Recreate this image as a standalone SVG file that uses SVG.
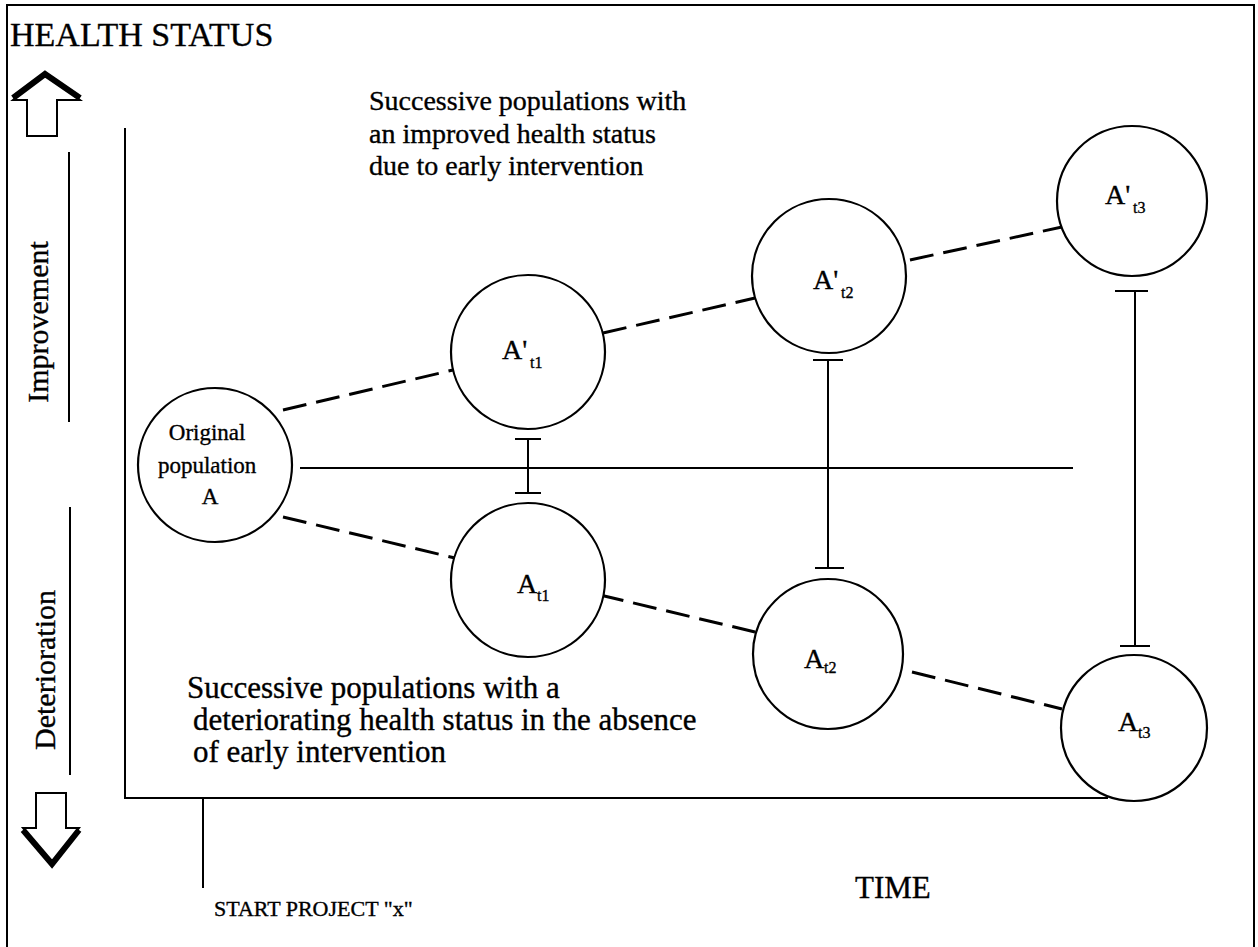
<svg xmlns="http://www.w3.org/2000/svg" width="1258" height="947" viewBox="0 0 1258 947">
  <style>
    .t { font-family: "Liberation Serif", "Times New Roman", serif; fill: #000; stroke: #000; stroke-width: 0.35; }
    .line { stroke: #000; stroke-width: 2; fill: none; }
    .node { stroke: #000; stroke-width: 2.2; fill: #fff; }
    .dash { stroke: #000; stroke-width: 3; fill: none; stroke-dasharray: 24 10; }
    .lbl { font-size: 28px; }
    .sub { font-size: 16px; }
  </style>
  <rect width="1258" height="947" fill="#fff"/>

  <!-- outer frame (open at the bottom) -->
  <path class="line" d="M7 947 V5 H1254 V947"/>

  <!-- axis title -->
  <text class="t" x="10" y="46" font-size="34">HEALTH STATUS</text>

  <!-- up / down block arrows -->
  <g id="arrow-up">
    <polygon class="line" points="27,136 27,100 13,100 45,74 80,100 57,100 57,136" fill="#fff"/>
    <polyline points="13,98 45,74 80,98" fill="none" stroke="#000" stroke-width="6" stroke-linejoin="miter"/>
  </g>
  <g id="arrow-down">
    <polygon class="line" points="36,793 66,793 66,828 79,828 52,864 23,828 36,828" fill="#fff"/>
    <polyline points="23,830 52,864 79,830" fill="none" stroke="#000" stroke-width="6" stroke-linejoin="miter"/>
  </g>

  <!-- side scale -->
  <g id="scale">
    <line class="line" x1="69" y1="152" x2="69" y2="422"/>
    <line class="line" x1="70" y1="507" x2="70" y2="775"/>
    <text class="t" font-size="30" text-anchor="middle" transform="translate(48 322) rotate(-90)">Improvement</text>
    <text class="t" font-size="30" text-anchor="middle" transform="translate(55 670) rotate(-90)">Deterioration</text>
  </g>

  <!-- plot axes -->
  <g id="axes">
    <path class="line" d="M125 128 V798 H1108"/>
    <line class="line" x1="203" y1="798" x2="203" y2="888"/>
    <text class="t" x="855" y="898" font-size="31">TIME</text>
    <text class="t" x="214" y="916" font-size="22">START PROJECT "x"</text>
  </g>

  <!-- captions -->
  <text class="t" font-size="28">
    <tspan x="369" y="110">Successive populations with</tspan>
    <tspan x="369" y="143">an improved health status</tspan>
    <tspan x="369" y="175">due to early intervention</tspan>
  </text>
  <text class="t" font-size="31">
    <tspan x="187" y="698">Successive populations with a</tspan>
    <tspan x="193" y="730">deteriorating health status in the absence</tspan>
    <tspan x="193" y="762">of early intervention</tspan>
  </text>

  <!-- connectors -->
  <g id="connectors">
    <line class="line" x1="300" y1="468" x2="1073" y2="468"/>
    <line class="dash" x1="283" y1="410" x2="453" y2="370"/>
    <line class="dash" x1="283" y1="517" x2="455" y2="558"/>
    <line class="dash" x1="603" y1="333" x2="755" y2="298"/>
    <line class="dash" x1="910" y1="260" x2="1062" y2="227"/>
    <line class="dash" x1="600" y1="595" x2="755" y2="632"/>
    <line class="dash" x1="912" y1="672" x2="1062" y2="709"/>
    <path class="line" d="M515 439 H541 M528 439 V493 M515 493 H541"/>
    <path class="line" d="M813 360 H843 M828 360 V568 M815 568 H844"/>
    <path class="line" d="M1115 291 H1148 M1135 291 V646 M1120 646 H1150"/>
  </g>

  <!-- population nodes -->
  <g id="node-original">
    <circle class="node" cx="215" cy="465" r="77"/>
    <text class="t" font-size="23" text-anchor="middle">
      <tspan x="210" y="440">Original</tspan>
      <tspan x="210" y="473">population</tspan>
      <tspan x="210" y="504">A</tspan>
    </text>
  </g>
  <g id="node-a-prime-t1">
    <circle class="node" cx="528" cy="352" r="77"/>
    <text class="t lbl" x="502" y="359">A'<tspan class="sub" x="530" y="368">t1</tspan></text>
  </g>
  <g id="node-a-prime-t2">
    <circle class="node" cx="829" cy="276" r="77"/>
    <text class="t lbl" x="813" y="289">A'<tspan class="sub" x="841" y="298">t2</tspan></text>
  </g>
  <g id="node-a-prime-t3">
    <circle class="node" cx="1132" cy="201" r="75"/>
    <text class="t lbl" x="1105" y="204">A'<tspan class="sub" x="1133" y="213">t3</tspan></text>
  </g>
  <g id="node-a-t1">
    <circle class="node" cx="528" cy="580" r="77"/>
    <text class="t lbl" x="517" y="593">A<tspan class="sub" x="537" y="601">t1</tspan></text>
  </g>
  <g id="node-a-t2">
    <circle class="node" cx="828" cy="654" r="75"/>
    <text class="t lbl" x="804" y="668">A<tspan class="sub" x="824" y="673">t2</tspan></text>
  </g>
  <g id="node-a-t3">
    <circle class="node" cx="1134" cy="728" r="73"/>
    <text class="t lbl" x="1118" y="731">A<tspan class="sub" x="1138" y="738">t3</tspan></text>
  </g>
</svg>
